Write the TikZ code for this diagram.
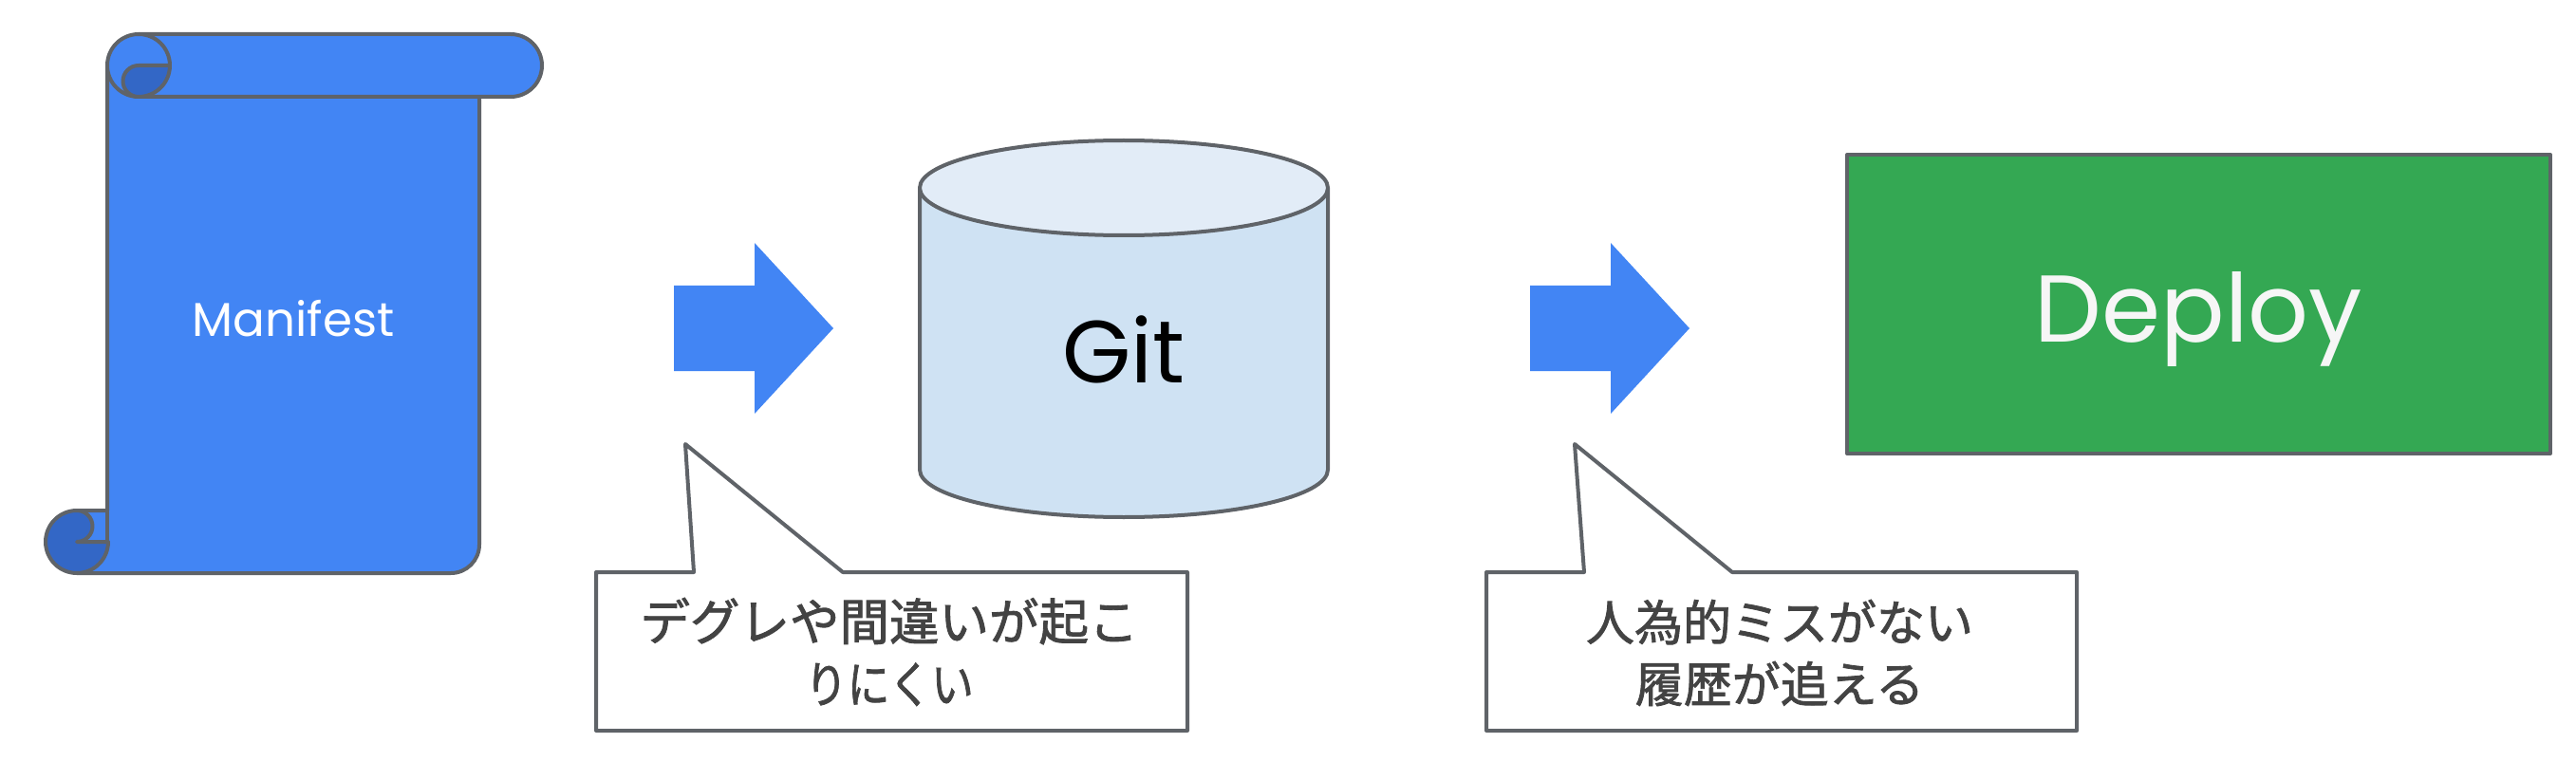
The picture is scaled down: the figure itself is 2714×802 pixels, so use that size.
\documentclass[tikz,border=0pt]{standalone}
\usepackage{fontspec}
\usepackage{graphicx}
\setmainfont{Poppins}
\newfontfamily\cjk[FakeBold=1.6]{Noto Sans CJK JP}
\definecolor{edge}{HTML}{5F6368}
\definecolor{gblue}{HTML}{4285F4}
\definecolor{dblue}{HTML}{3367C6}
\definecolor{gitbody}{HTML}{CFE2F3}
\definecolor{gittop}{HTML}{E2ECF7}
\definecolor{ggreen}{HTML}{34A853}
\definecolor{jtext}{HTML}{434343}
\tikzset{
  outline/.style={draw=edge,line width=4pt,line join=round},
  bigarrow/.style={fill=gblue,draw=none},
  calloutbox/.style={outline,fill=white},
  jplabel/.style={text=jtext,align=center,inner sep=0pt},
}
\begin{document}
\begin{tikzpicture}[x=1pt,y=-1pt]
\useasboundingbox (0,0) rectangle (2714,802);
% scroll body
\path[outline,fill=gblue] (113,69) -- (113,538) -- (81,538) -- (81,604) -- (475,604)
  arc[start angle=90,end angle=0,radius=30] -- (505,102) -- (505,69) -- cycle;
\path[outline] (113,538) -- (113,571);
% top roll
\path[outline,fill=gblue] (146,36) -- (538,36) arc[start angle=270,end angle=450,radius=33] -- (146,102)
  arc[start angle=90,end angle=270,radius=33] -- cycle;
\path[outline] (146,36) arc[start angle=270,end angle=360,radius=33];
\path[outline,fill=dblue] (179,69) -- (146,69) arc[start angle=270,end angle=90,radius=16.5]
  arc[start angle=90,end angle=0,radius=33] -- cycle;
% bottom roll
\path[outline,fill=dblue] (81,538) arc[start angle=270,end angle=90,radius=33]
  arc[start angle=90,end angle=0,radius=33] -- (81,571) arc[start angle=90,end angle=-90,radius=16.5] -- cycle;
\node[font=\fontsize{50}{60}\selectfont,text=white,inner sep=0pt] (manifest) at (309,336) {Manifest};
% arrows
\path[bigarrow] (710,301) -- (795,301) -- (795,256) -- (878,346) -- (795,436) -- (795,391) -- (710,391) -- cycle;
\path[bigarrow] (1612,301) -- (1697,301) -- (1697,256) -- (1780,346) -- (1697,436) -- (1697,391) -- (1612,391) -- cycle;
% cylinder
\path[outline,fill=gitbody] (969,198) -- (969,495) arc[start angle=180,end angle=0,x radius=215,y radius=50] -- (1399,198) -- cycle;
\path[outline,fill=gittop] (1184,198) ellipse[x radius=215,y radius=50];
\node[font=\fontsize{93}{105}\selectfont,text=black,inner sep=0pt] (git) at (1184,368) {Git};
% deploy
\node[outline,fill=ggreen,minimum width=741pt,minimum height=315pt,inner sep=0pt,font=\fontsize{100}{120}\selectfont,text=white!93!gray] (deploy) at (2316.5,320.5) {\raisebox{-40pt}[0pt][0pt]{Deploy}};
% callouts
\path[calloutbox] (628,603) -- (731,603) -- (722,468) -- (888,603) -- (1251,603) -- (1251,770) -- (628,770) -- cycle;
\node[jplabel,font=\cjk\fontsize{52.5}{66}\selectfont] (note1) at (937,687) {デグレや間違いが起こ\\\scalebox{0.85}[1]{りにくい}};
\path[calloutbox] (1566,603) -- (1669,603) -- (1659,468) -- (1825,603) -- (2188,603) -- (2188,770) -- (1566,770) -- cycle;
\node[jplabel,font=\cjk\fontsize{51}{65}\selectfont] (note2) at (1875,688) {人為的ミスがない\\履歴が追える};
\end{tikzpicture}
\end{document}
